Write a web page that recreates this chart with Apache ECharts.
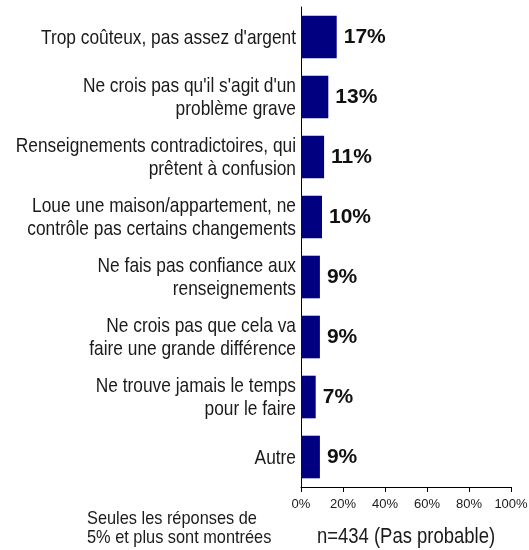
<!DOCTYPE html>
<html>
<head>
<meta charset="utf-8">
<script src="https://cdn.jsdelivr.net/npm/echarts@6/dist/echarts.min.js"></script>
<style>
  html, body { margin: 0; padding: 0; background: #ffffff; }
  #chart { width: 529px; height: 550px; }
</style>
</head>
<body>
<div id="chart"></div>
<script>
// Reasons given for not acting (share of respondents, %)
const categories = [
  "Trop coûteux, pas assez d'argent",
  "Ne crois pas qu'il s'agit d'un\nproblème grave",
  "Renseignements contradictoires, qui\nprêtent à confusion",
  "Loue une maison/appartement, ne\ncontrôle pas certains changements",
  "Ne fais pas confiance aux\nrenseignements",
  "Ne crois pas que cela va\nfaire une grande différence",
  "Ne trouve jamais le temps\npour le faire",
  "Autre"
];
const values = [17, 13, 11, 10, 9, 9, 7, 9];
const axisTicks = [0, 20, 40, 60, 80, 100];
const sampleNote = "n=434 (Pas probable)";
const footNote = "Seules les réponses de\n5% et plus sont montrées";

const sans = "Liberation Sans";
const textColor = '#1a1a1a';
// Condensed look for the category and note texts: regular sans squeezed horizontally
const narrowScale = 0.825;

const chart = echarts.init(document.getElementById('chart'), null, { renderer: 'canvas' });
chart.setOption({
  animation: false,
  backgroundColor: '#ffffff',
  grid: { left: 301, right: 18, top: 7, bottom: 63, containLabel: false, outerBoundsMode: 'none' },
  xAxis: {
    type: 'value',
    min: axisTicks[0],
    max: axisTicks[axisTicks.length - 1],
    interval: axisTicks[1] - axisTicks[0],
    axisLine: { show: true, lineStyle: { color: '#000000', width: 1 } },
    axisTick: { show: true, length: 5, lineStyle: { color: '#000000' } },
    axisLabel: {
      formatter: '{value}%',
      fontFamily: sans,
      fontSize: 13,
      color: textColor,
      margin: 11
    },
    splitLine: { show: false }
  },
  yAxis: {
    type: 'category',
    data: categories,
    inverse: true,
    axisLine: { show: true, lineStyle: { color: '#000000', width: 1 } },
    axisTick: { show: false },
    axisLabel: { show: false }
  },
  series: [{
    type: 'bar',
    data: values,
    barCategoryGap: '29%',
    itemStyle: { color: '#000080' },
    label: {
      show: true,
      position: 'right',
      distance: 7,
      formatter: '{c}%',
      fontFamily: sans,
      fontWeight: 'bold',
      fontSize: 21,
      color: '#111111'
    }
  }]
});

// Category labels, placed on the category axis positions
const labelRight = chart.convertToPixel({ xAxisIndex: 0 }, axisTicks[0]) - 5;
const graphics = categories.map(function (cat) {
  const y = chart.convertToPixel({ yAxisIndex: 0 }, cat);
  return {
    type: 'text',
    x: labelRight,
    y: y + 1,
    scaleX: narrowScale,
    style: {
      text: cat,
      fontFamily: sans,
      fontSize: 21,
      lineHeight: 23,
      fill: textColor,
      align: 'right',
      verticalAlign: 'middle'
    }
  };
});

// Sample size, centred under the value axis
const axisMid = (chart.convertToPixel({ xAxisIndex: 0 }, axisTicks[0]) +
                 chart.convertToPixel({ xAxisIndex: 0 }, axisTicks[axisTicks.length - 1])) / 2;
graphics.push({
  type: 'text',
  x: axisMid,
  y: 537,
  scaleX: 0.84,
  style: {
    text: sampleNote,
    fontFamily: sans,
    fontSize: 22,
    fill: textColor,
    align: 'center',
    verticalAlign: 'middle'
  }
});

// Footnote
graphics.push({
  type: 'text',
  x: 87,
  y: 528.5,
  scaleX: 0.86,
  style: {
    text: footNote,
    fontFamily: sans,
    fontSize: 19,
    lineHeight: 19,
    fill: textColor,
    align: 'left',
    verticalAlign: 'middle'
  }
});

chart.setOption({ graphic: graphics });
</script>
</body>
</html>
